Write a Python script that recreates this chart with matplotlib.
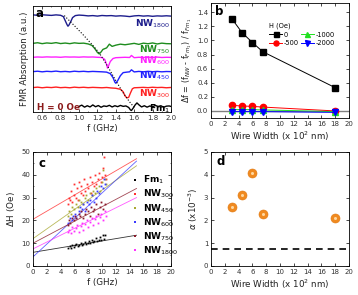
import numpy as np
import matplotlib
matplotlib.use('Agg')
import matplotlib.pyplot as plt

# panel a - FMR spectra at H = 0 (offset traces, a.u.)
f_1800 = [0.50, 0.55, 0.60, 0.65, 0.70, 0.75, 0.80, 0.83, 0.85, 0.87, 0.88, 0.89, 0.91, 0.93, 0.96,
          1.00, 1.05, 1.10, 1.15, 1.20, 1.25, 1.30, 1.35, 1.40, 1.45, 1.50, 1.55, 1.60, 1.65, 1.70,
          1.75, 1.80, 1.85, 1.90, 1.95, 2.00]
y_1800 = [9.62, 9.58, 9.63, 9.60, 9.57, 9.62, 9.58, 9.45, 9.05, 8.65, 8.50, 8.60, 8.95, 9.35, 9.55,
          9.60, 9.57, 9.52, 9.55, 9.50, 9.56, 9.53, 9.55, 9.50, 9.53, 9.50, 9.45, 9.52, 9.55, 9.50,
          9.53, 9.48, 9.52, 9.50, 9.53, 9.50]
f_750 = [0.50, 0.55, 0.60, 0.65, 0.70, 0.75, 0.80, 0.85, 0.90, 0.95, 1.00, 1.05, 1.10, 1.14, 1.17,
         1.20, 1.22, 1.24, 1.26, 1.30, 1.33, 1.36, 1.40, 1.45, 1.50, 1.55, 1.60, 1.65, 1.70, 1.75,
         1.80, 1.85, 1.90, 1.95, 2.00]
y_750 = [6.80, 6.86, 6.77, 6.84, 6.80, 6.87, 6.78, 6.83, 6.77, 6.85, 6.80, 6.82, 6.74, 6.60, 6.30,
         5.90, 5.75, 5.95, 6.20, 6.35, 6.72, 6.50, 6.62, 6.72, 6.66, 6.73, 6.80, 6.70, 6.82, 6.76,
         6.84, 6.74, 6.82, 6.77, 6.76]
f_600 = [0.50, 0.55, 0.60, 0.65, 0.70, 0.75, 0.80, 0.85, 0.90, 0.95, 1.00, 1.05, 1.10, 1.15, 1.20,
         1.25, 1.28, 1.30, 1.31, 1.32, 1.34, 1.37, 1.40, 1.45, 1.50, 1.55, 1.57, 1.60, 1.65, 1.70,
         1.75, 1.80, 1.85, 1.90, 1.95, 2.00]
y_600 = [5.42, 5.45, 5.43, 5.46, 5.44, 5.45, 5.42, 5.46, 5.44, 5.45, 5.43, 5.46, 5.44, 5.45, 5.42,
         5.40, 5.20, 4.70, 4.35, 4.55, 5.00, 5.30, 5.38, 5.40, 5.42, 5.40, 5.60, 5.38, 5.42, 5.40,
         5.43, 5.41, 5.44, 5.40, 5.42, 5.41]
f_450 = [0.50, 0.55, 0.60, 0.65, 0.70, 0.75, 0.80, 0.85, 0.90, 0.95, 1.00, 1.05, 1.10, 1.15, 1.20,
         1.25, 1.30, 1.34, 1.37, 1.39, 1.40, 1.42, 1.45, 1.48, 1.52, 1.55, 1.57, 1.60, 1.65, 1.70,
         1.75, 1.80, 1.85, 1.90, 1.95, 2.00]
y_450 = [4.00, 4.04, 3.98, 4.03, 4.00, 4.05, 3.99, 4.02, 3.98, 4.04, 4.00, 4.03, 3.99, 4.02, 4.00,
         3.98, 3.95, 3.80, 3.40, 2.95, 2.85, 3.10, 3.60, 3.90, 3.95, 3.98, 4.18, 3.97, 4.02, 3.98,
         4.03, 3.99, 4.02, 3.98, 4.01, 4.00]
f_300 = [0.50, 0.55, 0.60, 0.65, 0.70, 0.75, 0.80, 0.85, 0.90, 0.95, 1.00, 1.05, 1.10, 1.15, 1.20,
         1.25, 1.30, 1.35, 1.40, 1.45, 1.48, 1.50, 1.52, 1.54, 1.56, 1.58, 1.60, 1.65, 1.70, 1.75,
         1.80, 1.85, 1.90, 1.95, 2.00]
y_300 = [2.42, 2.46, 2.40, 2.45, 2.42, 2.47, 2.41, 2.44, 2.40, 2.46, 2.42, 2.45, 2.41, 2.44, 2.42,
         2.40, 2.43, 2.38, 2.35, 2.25, 2.00, 1.60, 1.40, 1.45, 1.90, 2.30, 2.40, 2.42, 2.44, 2.41,
         2.45, 2.42, 2.44, 2.40, 2.43]
f_fm1 = [1.00, 1.03, 1.06, 1.09, 1.12, 1.15, 1.18, 1.21, 1.24, 1.27, 1.30, 1.33, 1.36, 1.39, 1.42,
         1.45, 1.48, 1.51, 1.54, 1.56, 1.57, 1.59, 1.61, 1.63, 1.65, 1.68, 1.71, 1.74, 1.77, 1.80,
         1.83, 1.86, 1.89, 1.92, 1.95, 1.98, 2.00]
y_fm1 = [0.55, 0.68, 0.48, 0.62, 0.50, 0.70, 0.52, 0.64, 0.47, 0.60, 0.55, 0.66, 0.50, 0.62, 0.53,
         0.65, 0.56, 0.60, 0.45, 0.20, 0.15, 0.40, 0.70, 0.90, 0.72, 0.50, 0.62, 0.48, 0.60, 0.52,
         0.65, 0.55, 0.62, 0.47, 0.58, 0.60, 0.55]
f_guide = [0.84, 0.95, 1.05, 1.15, 1.22, 1.31, 1.40, 1.48, 1.55, 1.60]
y_guide = [9.55, 8.55, 7.60, 6.60, 5.85, 4.55, 3.10, 1.90, 1.00, 0.45]

# panel b - relative frequency shift vs wire width
width = [3, 4.5, 6, 7.5, 18]
df_0 = [1.31, 1.11, 0.97, 0.84, 0.33]
df_500 = [0.08, 0.07, 0.065, 0.055, 0.0]
df_1000 = [0.02, 0.02, 0.02, 0.015, -0.01]
df_2000 = [-0.01, -0.01, -0.01, -0.01, -0.02]

# panel c - linewidth vs frequency
c_names = ['Fm$_1$', 'NW$_{300}$', 'NW$_{450}$', 'NW$_{600}$', 'NW$_{750}$', 'NW$_{1800}$']
c_colors = ['black', '#ff3030', '#a8a832', '#3a3aff', '#8b1a2a', '#ff30ff']
f_c = [
    [5.1, 5.3, 5.5, 5.7, 5.9, 6.1, 6.3, 6.5, 6.7, 6.9, 7.1, 7.3, 7.5, 7.7, 7.9, 8.1, 8.3, 8.5, 8.7,
     8.9, 9.1, 9.3, 9.5, 9.7, 9.9, 10.1, 10.3, 10.5],
    [5.0, 5.2, 5.4, 5.5, 5.7, 5.9, 6.0, 6.2, 6.4, 6.5, 6.7, 6.9, 7.0, 7.2, 7.4, 7.6, 7.8, 8.0, 8.2,
     8.4, 8.6, 8.8, 9.0, 9.2, 9.4, 9.6, 9.8, 10.0, 10.1, 10.3, 10.4, 10.6],
    [5.0, 5.2, 5.5, 5.7, 6.0, 6.2, 6.5, 6.7, 7.0, 7.2, 7.5, 7.7, 8.0, 8.2, 8.5, 8.7, 9.0, 9.2, 9.5,
     9.7, 10.0, 10.2, 10.4, 10.6],
    [5.1, 5.3, 5.6, 5.8, 6.1, 6.3, 6.6, 6.8, 7.1, 7.3, 7.6, 7.8, 8.1, 8.3, 8.6, 8.8, 9.1, 9.3, 9.6,
     9.8, 10.1, 10.3, 10.5],
    [5.0, 5.2, 5.4, 5.6, 5.9, 6.1, 6.3, 6.6, 6.8, 7.0, 7.3, 7.5, 7.7, 8.0, 8.2, 8.4, 8.7, 8.9, 9.2,
     9.4, 9.7, 9.9, 10.2, 10.4],
    [5.0, 5.2, 5.5, 5.7, 5.9, 6.2, 6.4, 6.6, 6.9, 7.1, 7.3, 7.6, 7.8, 8.0, 8.3, 8.5, 8.7, 9.0, 9.2,
     9.4, 9.7, 9.9, 10.2, 10.4, 10.6],
]
dh_c = [
    [8.0, 8.6, 7.9, 9.1, 8.4, 9.0, 9.6, 8.8, 9.3, 10.1, 9.2, 9.8, 10.4, 9.5, 10.0, 10.8, 9.9, 11.3,
     10.5, 11.0, 12.2, 10.8, 11.6, 12.8, 11.2, 13.4, 12.0, 13.8],
    [27, 30, 29, 33, 28, 31, 36, 30, 34, 29, 37, 32, 35, 31, 38, 33, 36, 34, 39, 32, 37, 35, 40, 36,
     38, 41, 37, 39, 43, 48, 40, 38],
    [22, 24, 23, 26, 25, 27, 26, 29, 28, 27, 30, 31, 29, 32, 31, 33, 32, 34, 35, 33, 37, 42, 38, 36],
    [19, 21, 20, 22, 23, 21, 24, 26, 25, 27, 24, 28, 27, 29, 31, 28, 30, 33, 32, 35, 34, 38, 36],
    [18, 20, 19, 21, 20, 22, 21, 23, 22, 24, 21, 23, 25, 24, 22, 26, 24, 25, 27, 23, 26, 28, 25, 27],
    [15, 16, 14.5, 17, 15.5, 16.5, 18, 15, 17.5, 19, 16, 18.5, 20, 17, 19.5, 21, 18, 20.5, 22, 19,
     21.5, 23, 20, 24, 22],
]
fit_intercept = [6.0, 20.5, 12.0, 4.0, 10.0, 7.5]
fit_slope = [0.50, 1.77, 2.13, 2.80, 1.60, 1.50]

# panel d - damping vs wire width
alpha = [2.6, 3.1, 4.1, 2.3, 2.1]
alpha_film = 0.75

W, H = 358, 295
fig = plt.figure(figsize=(W / 100, H / 100), dpi=100)
plt.rcParams['font.family'] = 'DejaVu Sans'

def rect(l, t, r, b):
    return [l / W, 1 - b / H, (r - l) / W, (b - t) / H]

def style(ax):
    ax.tick_params(direction='in', top=True, right=True, labelsize=5, length=2, width=0.5, pad=2,
                   labelcolor='#333333')
    ax.tick_params(which='minor', direction='in', top=True, right=True, length=1, width=0.4)
    for s in ax.spines.values():
        s.set_linewidth(0.6)

lab_kw = dict(fontsize=6.3, color='#222222')

# ---- a
ax = fig.add_axes(rect(33, 6, 171, 112))
traces = [(f_1800, y_1800, '#1c1c8c', '1800'), (f_750, y_750, '#1e8c1e', '750'),
          (f_600, y_600, '#ff20ff', '600'), (f_450, y_450, '#2020ff', '450'),
          (f_300, y_300, '#ff2020', '300')]
for fx, fy, col, lab in traces:
    ax.plot(fx, fy, color=col, lw=1.0)
ax.plot(f_fm1, y_fm1, color='black', lw=1.0)
ax.plot(f_guide, y_guide, color='black', lw=0.8, ls=':')
label_y = [8.75, 6.15, 5.05, 3.55, 1.85]
for (fx, fy, col, lab), ly in zip(traces, label_y):
    ax.text(1.995, ly, 'NW$_{' + lab + '}$', color=col, fontsize=6.5, fontweight='bold',
            ha='right', va='center')
ax.text(1.995, 0.35, 'Fm$_1$', color='black', fontsize=6.5, fontweight='bold', ha='right', va='center')
ax.text(0.54, 0.45, 'H = 0 Oe', color='#8b1a1a', fontsize=6.3, fontweight='bold', va='center')
ax.text(0.02, 0.99, 'a', transform=ax.transAxes, fontsize=8.5, fontweight='bold', va='top')
ax.set_xlim(0.5, 2.0)
ax.set_ylim(0, 10.5)
ax.set_xticks(np.arange(0.6, 2.01, 0.2))
ax.set_xticks(np.arange(0.5, 2.01, 0.1), minor=True)
ax.set_yticks([])
style(ax)
ax.set_xlabel('f (GHz)', labelpad=2, **lab_kw)
ax.set_ylabel('FMR Absorption (a.u.)', labelpad=3, **lab_kw)

# ---- b
ax = fig.add_axes(rect(211, 3, 349, 118))
ax.axhline(0, color='gray', lw=1.0)
ax.plot(width, df_0, color='black', marker='s', ms=4.5, lw=0.7, label='0')
ax.plot(width, df_500, color='red', marker='o', ms=4.5, lw=0.7, label='-500')
ax.plot(width, df_1000, color='#20e020', marker='^', ms=4.5, lw=0.7, label='-1000')
ax.plot(width, df_2000, color='blue', marker='v', ms=4.5, lw=0.7, label='-2000')
leg = ax.legend(ncol=2, title='H (Oe)', fontsize=4.8, title_fontsize=4.8, frameon=False,
                loc='upper left', bbox_to_anchor=(0.4, 0.85), handlelength=2.0,
                handletextpad=0.2, columnspacing=0.3, labelspacing=0.35, borderaxespad=0,
                markerscale=0.8)
leg._legend_box.align = 'left'
ax.text(0.03, 0.98, 'b', transform=ax.transAxes, fontsize=8.5, fontweight='bold', va='top')
ax.set_xlim(0, 20)
ax.set_ylim(-0.1, 1.53)
ax.set_xticks(np.arange(0, 21, 2))
ax.set_yticks(np.arange(0, 1.41, 0.2))
ax.set_yticklabels(['%.1f' % v for v in np.arange(0, 1.41, 0.2)])
style(ax)
ax.set_xlabel('Wire Width (x 10$^2$ nm)', labelpad=2, **lab_kw)
ax.set_ylabel(r'$\Delta$f = (f$_{NW}$ - f$_{Fm_1}$) / f$_{Fm_1}$', labelpad=2, fontsize=5.8,
              color='#222222')

# ---- c
ax = fig.add_axes(rect(33, 152, 171, 266))
fline = np.array([0, 15])
for name, col, fx, dh, b0, b1 in zip(c_names, c_colors, f_c, dh_c, fit_intercept, fit_slope):
    ax.plot(fx, dh, ls='none', marker='s', ms=1.3, mew=0, color=col, label=name)
    ax.plot(fline, b0 + b1 * fline, color=col, lw=0.6, alpha=0.8)
ax.legend(loc='upper left', bbox_to_anchor=(0.7, 0.84), frameon=False, markerscale=1.2,
          handlelength=0.5, handletextpad=0.6, labelspacing=0.18, borderaxespad=0,
          prop={'size': 6.5, 'weight': 'bold'})
ax.text(0.04, 0.96, 'c', transform=ax.transAxes, fontsize=8.5, fontweight='bold', va='top')
ax.set_xlim(0, 20)
ax.set_ylim(0, 50)
ax.set_xticks(np.arange(0, 21, 2))
ax.set_yticks(np.arange(0, 51, 10))
ax.set_yticks(np.arange(0, 51, 5), minor=True)
style(ax)
ax.set_xlabel('f (GHz)', labelpad=2, **lab_kw)
ax.set_ylabel(r'$\Delta$H (Oe)', labelpad=3, **lab_kw)

# ---- d
ax = fig.add_axes(rect(211, 152, 349, 266))
ax.axhline(alpha_film, color='black', lw=1.2, ls=(0, (4, 3)))
ax.plot(width, alpha, ls='none', marker='o', ms=6.5, color='#f08a20', mec='#e07810', mew=0.4)
ax.plot(width, alpha, ls='none', marker='o', ms=2.2, color='#ffd7a0', mew=0)
ax.text(0.04, 0.97, 'd', transform=ax.transAxes, fontsize=8.5, fontweight='bold', va='top')
ax.set_xlim(0, 20)
ax.set_ylim(0, 5)
ax.set_xticks(np.arange(0, 21, 2))
ax.set_yticks(np.arange(0, 6, 1))
style(ax)
ax.set_xlabel('Wire Width (x 10$^2$ nm)', labelpad=2, **lab_kw)
ax.set_ylabel(r'$\alpha$ (x10$^{-3}$)', labelpad=3, **lab_kw)

fig.savefig('out.png', dpi=100)
